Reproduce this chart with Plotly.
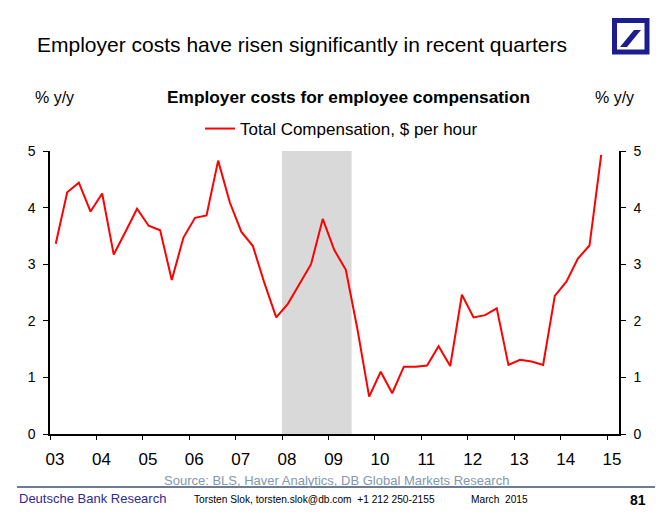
import plotly.graph_objects as go
import pandas as pd

# ---- data (quarterly, % y/y) ----
start_quarter = "2003Q1"
total_comp = [3.36, 4.27, 4.44, 3.93, 4.25, 3.17, 3.57, 3.98,
              3.68, 3.60, 2.72, 3.47, 3.82, 3.86, 4.83, 4.09,
              3.57, 3.32, 2.66, 2.06, 2.30, 2.65, 3.00, 3.80,
              3.25, 2.90, 1.85, 0.66, 1.10, 0.72, 1.19, 1.19,
              1.21, 1.55, 1.20, 2.46, 2.06, 2.10, 2.22, 1.22,
              1.31, 1.28, 1.22, 2.44, 2.69, 3.10, 3.33, 4.93]
recession = ["2008-01-01", "2009-07-01"]
year_ticks = [str(y) + "-01-01" for y in range(2003, 2016)]
y_ticks = [0, 1, 2, 3, 4, 5]

periods = pd.period_range(start_quarter, periods=len(total_comp), freq="Q")
dates = [p.start_time + (p.end_time - p.start_time) / 2 for p in periods]

W, H = 663, 512
L, R, T, B = 50, 619, 151, 434
FONT = "Arial, Liberation Sans, sans-serif"
RED = "#ff0000"
DBBLUE = "#1c1d8f"


def px(x):
    return (x - L) / (R - L)


def py(y):
    return (B - y) / (B - T)


fig = go.Figure()
fig.add_trace(go.Scatter(x=dates, y=total_comp, mode="lines",
                         name="Total Compensation, $ per hour",
                         line=dict(color=RED, width=2)))
fig.add_trace(go.Scatter(x=dates, y=total_comp, mode="lines", yaxis="y2",
                         showlegend=False, hoverinfo="skip",
                         line=dict(color="rgba(0,0,0,0)", width=0)))

fig.add_shape(type="rect", xref="x", yref="y", x0=recession[0], x1=recession[1],
              y0=0, y1=5, fillcolor="#d9d9d9", line=dict(width=0), layer="below")

axis_common = dict(range=[0, 5], tickvals=y_ticks, ticks="outside", ticklen=5,
                   tickwidth=1, tickcolor="black", showline=True, linecolor="black",
                   linewidth=1.5, showgrid=False, zeroline=False, ticklabelstandoff=5,
                   tickfont=dict(family=FONT, size=14, color="black"))

fig.update_layout(
    width=W, height=H, autosize=False,
    margin=dict(l=L, r=W - R, t=T, b=H - B),
    paper_bgcolor="white", plot_bgcolor="white",
    font=dict(family=FONT, color="black"),
    xaxis=dict(type="date", range=["2003-01-01", "2015-04-05"],
               tickvals=year_ticks, tickformat="%y", ticks="outside", ticklen=4,
               tickcolor="black", showline=True, linecolor="black", linewidth=1.5,
               showgrid=False, zeroline=False, ticklabelshift=5, ticklabelstandoff=5,
               tickfont=dict(family=FONT, size=17, color="black")),
    yaxis=dict(side="left", **axis_common),
    yaxis2=dict(side="right", overlaying="y", **axis_common),
    showlegend=True,
    legend=dict(orientation="h", x=px(200), xanchor="left", y=py(129), yanchor="middle",
                font=dict(family=FONT, size=17, color="black"), itemwidth=30,
                bgcolor="rgba(0,0,0,0)"),
)

ann = []


def text(x, y, s, size, xanchor="left", color="black", bold=False):
    ann.append(dict(x=px(x), y=py(y), xref="paper", yref="paper", text=("<b>%s</b>" % s) if bold else s,
                    showarrow=False, xanchor=xanchor, yanchor="middle",
                    font=dict(family=FONT, size=size, color=color)))


text(35, 44, "Employer costs have risen significantly in recent quarters", 21)
text(33, 97, "% y/y", 16)
text(348, 97, "Employer costs for employee compensation", 17.3, xanchor="center", bold=True)
text(636, 97, "% y/y", 16, xanchor="right")
text(336, 480, "Source: BLS, Haver Analytics, DB Global Markets Research", 13, xanchor="center", color="#8497b0")
text(17, 498, "Deutsche Bank Research", 13, color="#2e2a94")
text(192, 500, "Torsten Slok, torsten.slok@db.com  +1 212 250-2155", 10.2)
text(469, 500, "March  2015", 10.2)
text(648, 500, "81", 14, xanchor="right", bold=True)
fig.update_layout(annotations=ann)

# footer rule
fig.add_shape(type="line", xref="paper", yref="paper", x0=px(17), x1=px(655), y0=py(487), y1=py(487),
              line=dict(color="#6b7c93", width=2))
# logo
fig.add_shape(type="rect", xref="paper", yref="paper", x0=px(614.5), x1=px(647), y0=py(20.5), y1=py(52),
              line=dict(color=DBBLUE, width=5), fillcolor="white")
pts = [(620, 47), (627, 47), (641, 30), (634, 30)]
path = "M " + " L ".join("%f,%f" % (px(a), py(b)) for a, b in pts) + " Z"
fig.add_shape(type="path", xref="paper", yref="paper", path=path, fillcolor=DBBLUE, line=dict(width=0))

fig.write_html("out.html", config={"displayModeBar": False},
               post_script="document.body.style.margin='0';document.body.style.overflow='hidden';")
